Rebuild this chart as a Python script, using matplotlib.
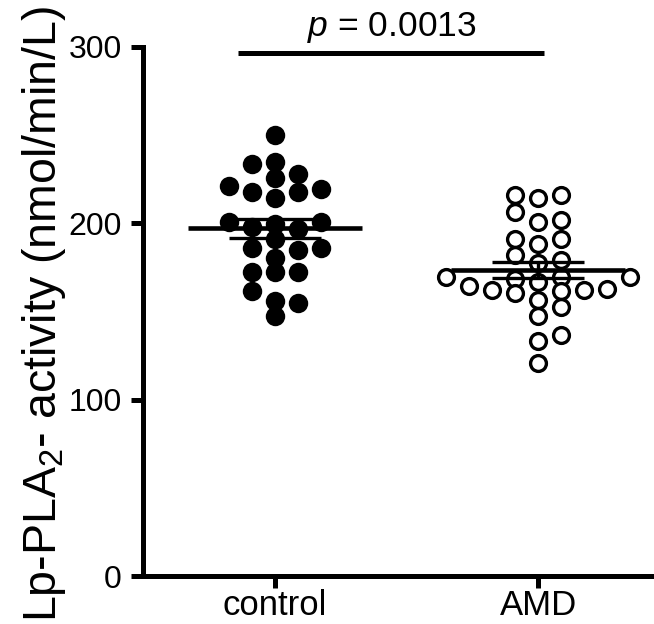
import numpy as np
import matplotlib
matplotlib.use("Agg")
import matplotlib.pyplot as plt

plt.rcParams["font.family"] = ["Liberation Sans", "DejaVu Sans"]
plt.rcParams["mathtext.fontset"] = "custom"
plt.rcParams["mathtext.rm"] = "Liberation Sans"
plt.rcParams["mathtext.it"] = "Liberation Sans:italic"

# Lp-PLA2 activity (nmol/min/L)
groups = ["control", "AMD"]
control = [250, 235, 233.5, 227.7, 225.7, 221, 219.3, 217.8, 217.8, 214.6,
           200.7, 200.7, 199.8, 197.9, 197, 190.9, 186, 186, 185, 180.5,
           172.3, 172.3, 172.3, 161.4, 155.9, 154.8, 147.2]
amd = [216.3, 214.4, 216.3, 206.5, 202.1, 200.7, 190.9, 188, 191.3, 182,
       177.5, 179, 169.5, 168.6, 166.7, 169.5, 169.5, 164.2, 161.4, 160.6,
       162, 162, 163, 156.8, 152.8, 147.7, 136.9, 133, 120.6]
yticks = [0, 100, 200, 300]
p_text = "$p$ = 0.0013"


def swarm_offsets(values, ax, col_w, gap_px):
    """Greedy column layout (Prism-like): lowest value first, nearest column
    where the point is at least gap_px away from others in that column."""
    vals = np.asarray(values, float)
    order = np.argsort(vals, kind="stable")
    sy = ax.transData.transform((0, 1))[1] - ax.transData.transform((0, 0))[1]
    cols = {}
    offs = np.zeros(len(vals))
    cands = [0]
    for k in range(1, 8):
        cands += [k, -k]
    for i in order:
        for c in cands:
            if all(abs(vals[i] - v) * sy >= gap_px for v in cols.get(c, [])):
                cols.setdefault(c, []).append(vals[i])
                offs[i] = c * col_w
                break
    return offs


fig = plt.figure(figsize=(6.54, 6.24), dpi=100)
ax = fig.add_axes([0.2194, 0.0769, 0.7806, 0.8478])
ax.set_xlim(-0.4994, 1.4394)
ax.set_ylim(0, 300)

for i, (vals, filled) in enumerate([(control, True), (amd, False)]):
    offs = swarm_offsets(vals, ax, 0.0873, 14)
    if filled:
        ax.plot(i + offs, vals, "o", ms=14, mfc="black", mec="black", mew=0,
                ls="none", zorder=2, clip_on=False)
    else:
        ax.plot(i + offs, vals, "o", ms=11.4, mfc="white", mec="black", mew=2.4,
                ls="none", zorder=2, clip_on=False)
    m = np.mean(vals)
    sem = np.std(vals, ddof=1) / np.sqrt(len(vals))
    ax.hlines(m, i - 0.33, i + 0.33, color="black", lw=3.3, zorder=3)
    ax.hlines([m - sem, m + sem], i - 0.175, i + 0.175, color="black", lw=2.4, zorder=3)
    ax.vlines(i, m - sem, m + sem, color="black", lw=2.4, zorder=3)

# significance bar
ax.hlines(296.8, -0.14, 1.02, color="black", lw=3.6, clip_on=False)
ax.text(0.445, 306.5, p_text, ha="center", va="baseline", fontsize=25.5, clip_on=False)

ax.set_xticks([0, 1])
ax.set_xticklabels(groups, fontsize=25)
ax.set_yticks(yticks)
ax.set_yticklabels([str(t) for t in yticks], fontsize=23)
ax.tick_params(axis="both", width=3.6, length=8.5, color="black")
ax.tick_params(axis="y", pad=7)
ax.tick_params(axis="x", pad=1)
for s in ["top", "right"]:
    ax.spines[s].set_visible(False)
for s in ["left", "bottom"]:
    ax.spines[s].set_linewidth(3.6)

fig.text(0.068, 0.497, "Lp-PLA$_2$- activity (nmol/min/L)", rotation=90,
         ha="center", va="center", fontsize=33.5)

fig.savefig("out.png", dpi=100)
